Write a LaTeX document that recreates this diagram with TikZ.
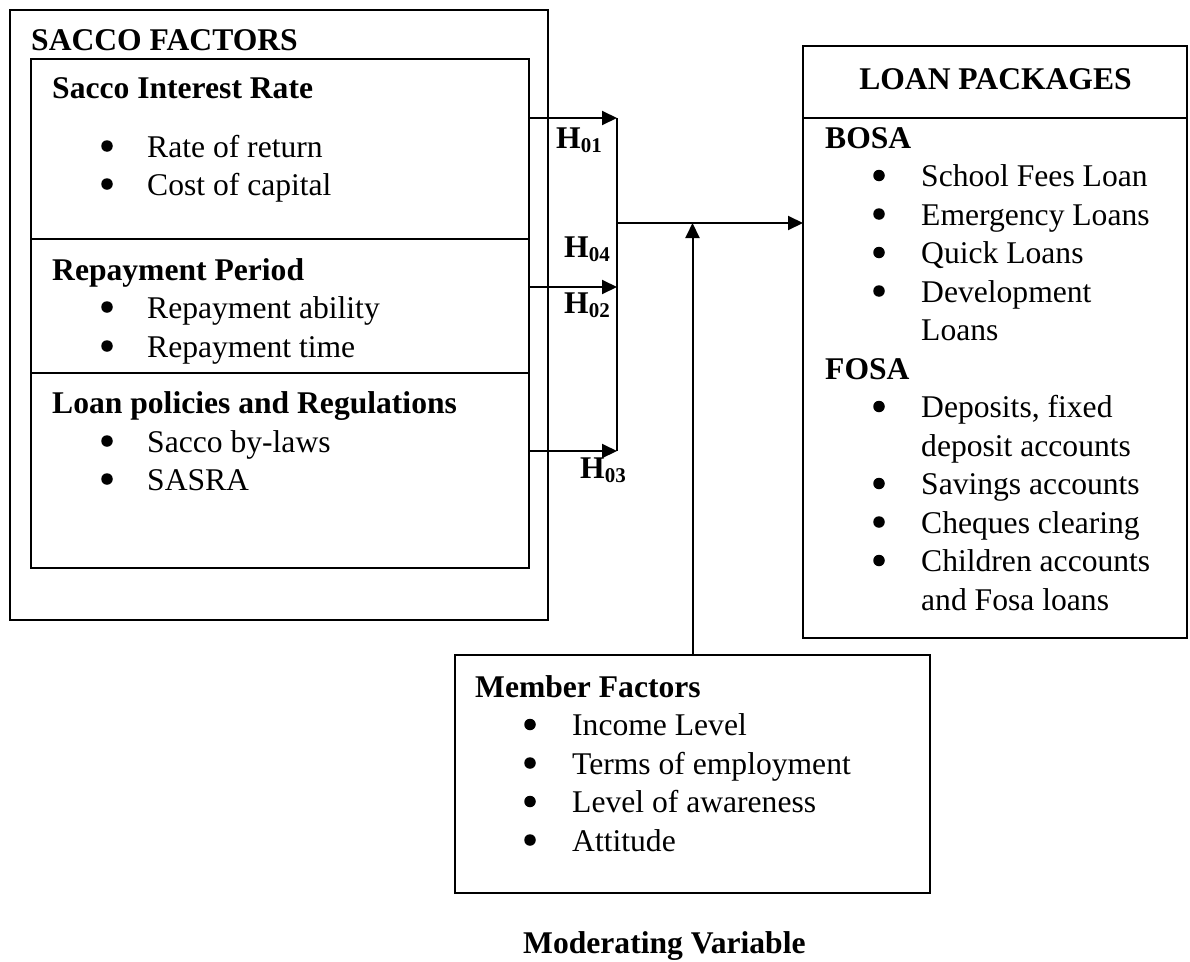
\documentclass[tikz,border=0pt]{standalone}
\usepackage{fontspec}
\setmainfont{Liberation Serif}
\usetikzlibrary{arrows.meta}
\newcommand\hsub[1]{\raisebox{-4pt}{\fontsize{21}{21}\selectfont #1}}
\begin{document}
\begin{tikzpicture}[x=1pt,y=-1pt,
  font=\fontsize{31.6}{38.5}\selectfont,
  box/.style={draw, line width=1.5pt, inner sep=0pt, outer sep=0pt, anchor=north west},
  divline/.style={line width=1.5pt},
  txt/.style={anchor=base west, inner sep=0pt},
  bul/.style={circle, fill, inner sep=0pt, minimum size=11.5pt, yshift=11pt},
  hd/.style={anchor=base west, inner sep=0pt, font=\fontsize{31.6}{38.5}\selectfont\bfseries},
  arr/.style={line width=2pt, -{Triangle[length=15pt,width=14pt]}},
  bar/.style={line width=1.4pt}]
\useasboundingbox (0,0) rectangle (1190,961);

% ---- SACCO FACTORS ----
\node[box, minimum width=538pt, minimum height=610pt] (outer) at (10,10) {};
\node[box, minimum width=498pt, minimum height=509pt] (inner) at (31,59) {};
\coordinate (d1) at (0,239);
\coordinate (d2) at (0,373);
\draw[divline] (inner.west |- d1) -- (inner.east |- d1);
\draw[divline] (inner.west |- d2) -- (inner.east |- d2);

\node[hd] (sf) at (31,50) {SACCO FACTORS};
\node[hd] (sir) at (52,98) {Sacco Interest Rate};
\node[bul] (b1) at (107,157) {};
\node[txt] (t1) at (147,157) {Rate of return};
\node[bul] (b2) at (107,195) {};
\node[txt] (t2) at (147,195) {Cost of capital};

\node[hd] (rp) at (52,280) {Repayment Period};
\node[bul] (b3) at (107,318) {};
\node[txt] (t3) at (147,318) {Repayment ability};
\node[bul] (b4) at (107,357) {};
\node[txt] (t4) at (147,357) {Repayment time};

\node[hd] (lp) at (52,413) {Loan policies and Regulations};
\node[bul] (b5) at (107,452) {};
\node[txt] (t5) at (147,452) {Sacco by-laws};
\node[bul] (b6) at (107,490) {};
\node[txt] (t6) at (147,490) {SASRA};

% ---- LOAN PACKAGES ----
\node[box, minimum width=384pt, minimum height=592pt] (loan) at (803,46) {};
\coordinate (d3) at (0,118);
\draw[divline] (loan.west |- d3) -- (loan.east |- d3);
\node[anchor=base, inner sep=0pt, font=\fontsize{31.6}{38.5}\selectfont\bfseries] (lph) at (995.5,89) {LOAN PACKAGES};
\node[hd] (bosa) at (825,148) {BOSA};
\node[bul] (lb1) at (879,186.5) {};
\node[txt] (l1) at (921,186.5) {School Fees Loan};
\node[bul] (lb2) at (879,225) {};
\node[txt] (l2) at (921,225) {Emergency Loans};
\node[bul] (lb3) at (879,263.5) {};
\node[txt] (l3) at (921,263.5) {Quick Loans};
\node[bul] (lb4) at (879,302) {};
\node[txt] (l4) at (921,302) {Development};
\node[txt] (l4b) at (921,340.5) {Loans};
\node[hd] (fosa) at (825,379) {FOSA};
\node[bul] (lb5) at (879,417.5) {};
\node[txt] (l5) at (921,417.5) {Deposits, fixed};
\node[txt] (l5b) at (921,456) {deposit accounts};
\node[bul] (lb6) at (879,494.5) {};
\node[txt] (l6) at (921,494.5) {Savings accounts};
\node[bul] (lb7) at (879,533) {};
\node[txt] (l7) at (921,533) {Cheques clearing};
\node[bul] (lb8) at (879,571.5) {};
\node[txt] (l8) at (921,571.5) {Children accounts};
\node[txt] (l8b) at (921,610) {and Fosa loans};

% ---- MEMBER FACTORS ----
\node[box, minimum width=475pt, minimum height=238pt] (member) at (455,655) {};
\node[hd] (mf) at (475,697) {Member Factors};
\node[bul] (mb1) at (530,735.5) {};
\node[txt] (m1) at (572,735.5) {Income Level};
\node[bul] (mb2) at (530,774) {};
\node[txt] (m2) at (572,774) {Terms of employment};
\node[bul] (mb3) at (530,812.5) {};
\node[txt] (m3) at (572,812.5) {Level of awareness};
\node[bul] (mb4) at (530,851) {};
\node[txt] (m4) at (572,851) {Attitude};
\node[hd] (mv) at (523,953) {Moderating Variable};

% ---- connectors ----
\coordinate (j1) at (617,118);
\coordinate (j2) at (617,287);
\coordinate (j3) at (617,451);
\coordinate (jm) at (617,223);
\draw[arr] (inner.east |- j1) -- (j1);
\draw[arr] (inner.east |- j2) -- (j2);
\draw[arr] (inner.east |- j3) -- (j3);
\draw[bar] (j1) -- (j3);
\draw[arr] (jm) -- (loan.west |- jm);
\draw[arr] (member.north) -- (member.north |- jm);

% ---- hypothesis labels ----
\node[hd] (h01) at (556,148) {H\hsub{01}};
\node[hd] (h04) at (564,257) {H\hsub{04}};
\node[hd] (h02) at (564,313) {H\hsub{02}};
\node[hd] (h03) at (580,478) {H\hsub{03}};
\end{tikzpicture}
\end{document}
